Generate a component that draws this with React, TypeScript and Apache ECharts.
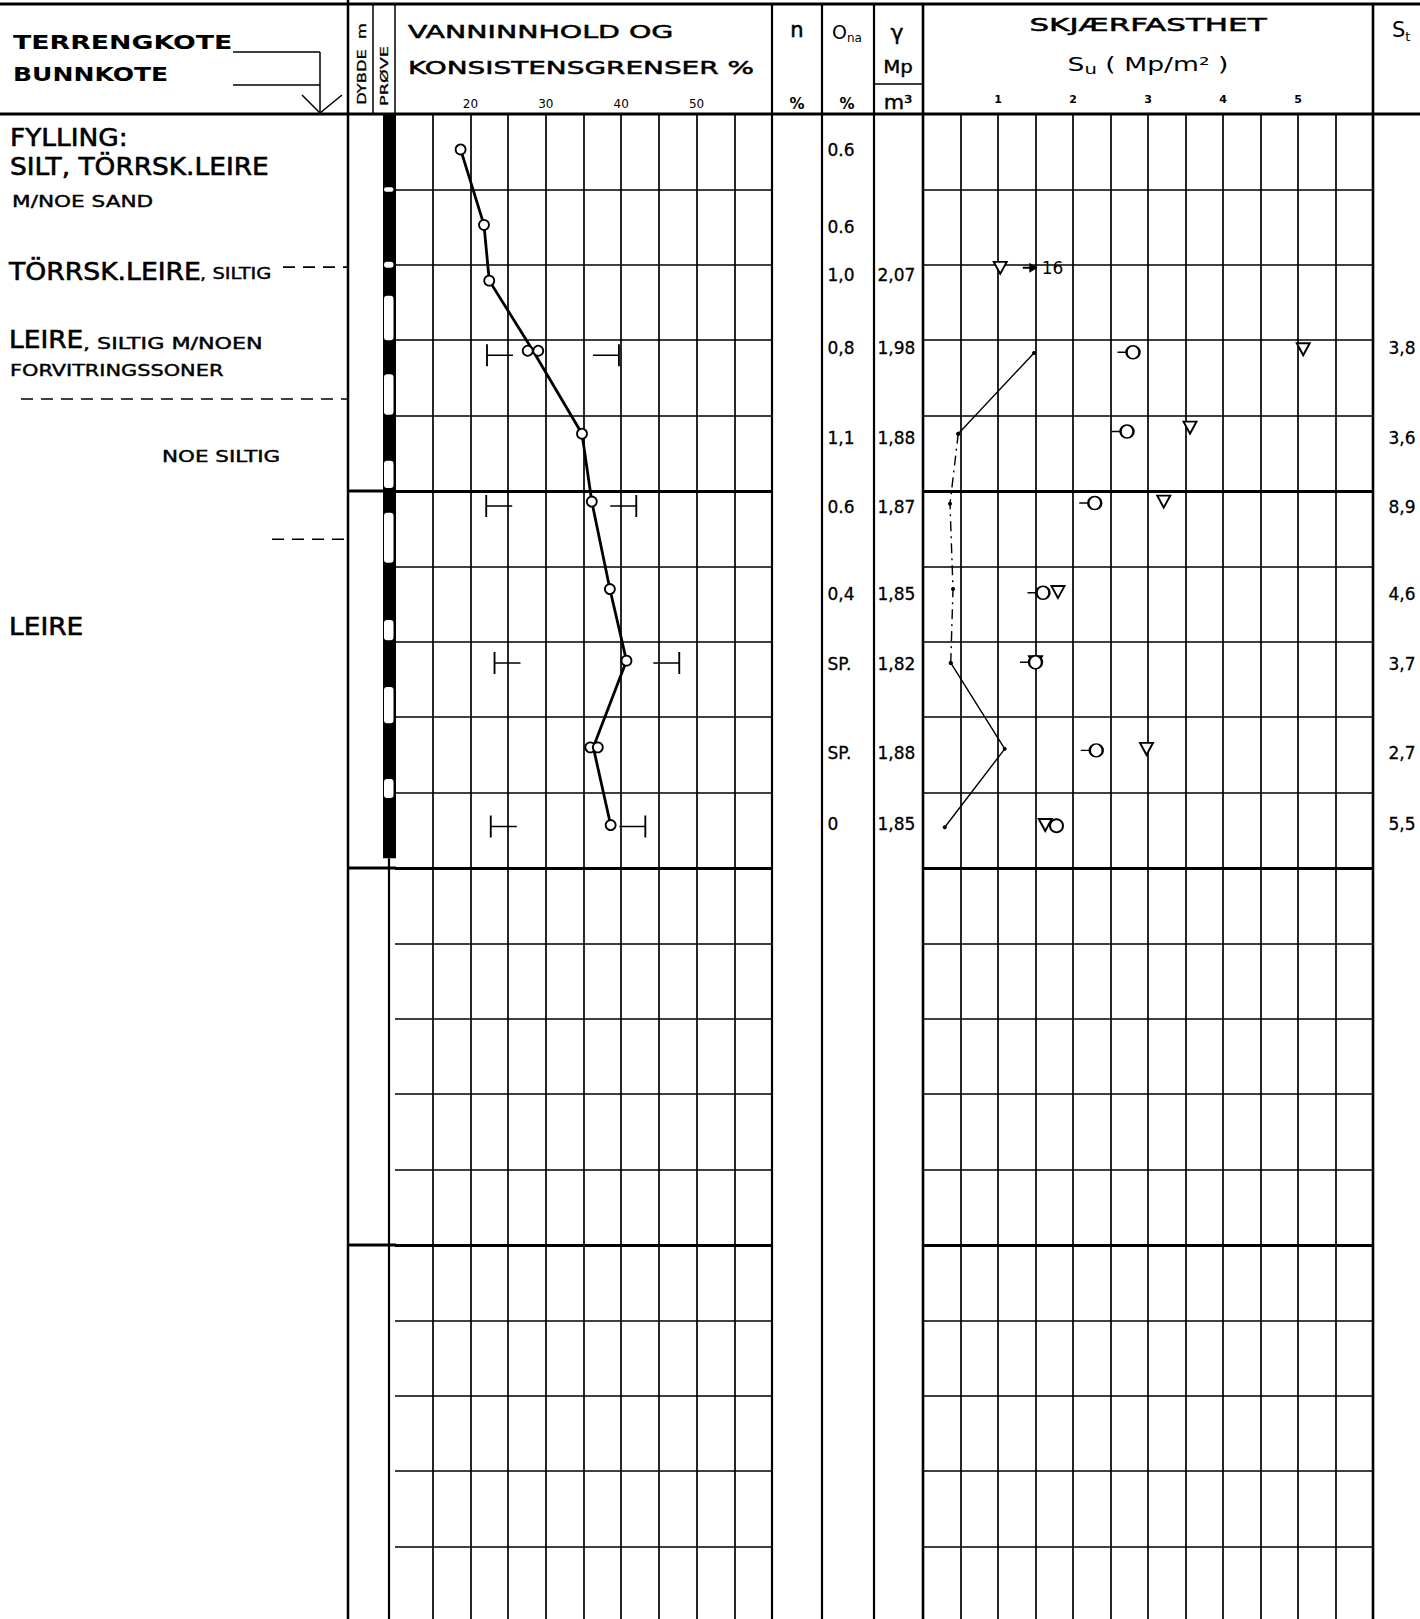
import React, { useEffect, useRef } from "react";
import * as echarts from "echarts";

const FONT = "'DejaVu Sans', 'Liberation Sans', sans-serif";

// ---- Data (depth in m, water content in %, shear strength in Mp/m2) ----
const wcSampleDepth = [0.47, 1.47, 2.21, 3.14, 3.14, 4.24, 5.14, 6.3, 7.25, 8.4, 8.4, 9.43];
const wcSampleValue = [18.7, 21.8, 22.5, 27.6, 29.0, 34.8, 36.1, 38.5, 40.7, 35.9, 36.9, 38.6];
const wcProfileDepth = [0.47, 1.47, 2.21, 3.14, 4.24, 5.14, 6.3, 7.25, 8.4, 9.43];
const wcProfileValue = [18.7, 21.8, 22.5, 28.3, 34.8, 36.1, 38.5, 40.7, 36.3, 38.6];
const limitDepth = [3.2, 5.2, 7.28, 9.45];
const plasticLimit = [22.2, 22.1, 23.2, 22.7];
const liquidLimit = [39.7, 42.0, 47.7, 43.2];
const wcTickLabels = [20, 30, 40, 50];

const onaDepth = [0.48, 1.5, 2.13, 3.1, 4.3, 5.21, 6.37, 7.29, 8.47, 9.42];
const onaText = ["0.6", "0.6", "1,0", "0,8", "1,1", "0.6", "0,4", "SP.", "SP.", "0"];
const gammaDepth = [2.13, 3.1, 4.3, 5.21, 6.37, 7.29, 8.47, 9.42];
const gammaText = ["2,07", "1,98", "1,88", "1,87", "1,85", "1,82", "1,88", "1,85"];
const stDepth = [3.1, 4.3, 5.21, 6.37, 7.29, 8.47, 9.42];
const stText = ["3,8", "3,6", "8,9", "4,6", "3,7", "2,7", "5,5"];

const coneDepth = [2.04, 3.12, 4.16, 5.14, 6.34, 7.27, 8.42, 9.43];
const coneSu = [1.03, 5.07, 3.56, 3.21, 1.8, 1.5, 2.98, 1.63];
const ucDepth = [3.16, 4.21, 5.16, 6.35, 7.27, 8.44, 9.44];
const ucSu = [2.8, 2.72, 2.29, 1.6, 1.5, 2.31, 1.78];
const ucTail = [true, true, true, true, true, true, false];
const remDepth = [3.17, 4.24, 5.17, 6.3, 7.28, 8.42, 9.46];
const remSu = [1.48, 0.47, 0.36, 0.4, 0.37, 1.09, 0.29];
const offScaleDepth = [2.04];
const offScaleSu = [1.43];
const offScaleText = ["16"];
const suTickLabels = [1, 2, 3, 4, 5];

const majorDepths = [5, 10, 15];
const layerBoundaries = [2.03, 3.78, 5.64];
const sampleGaps = [
  [0.97, 1.03], [1.96, 2.04], [2.41, 3.0], [3.45, 3.99], [4.6, 4.96],
  [5.29, 5.95], [6.71, 6.98], [7.6, 8.08], [8.82, 9.07],
];
const sampleEnd = 9.87;

// ---- Layout ----
const W = 1420;
const H = 1619;
const TOP = 114;
const ROW = 75.4;
const HEIGHT = 20 * ROW;
const yOf = (d: number) => TOP + d * ROW;

const TAIL_CIRCLE = "path://M0,7L9,7M9,7A6.5,6.5,0,1,1,22,7A6.5,6.5,0,1,1,9,7Z";
const PL_SYM = "path://M0,0L0,22M0,11L26,11";
const LL_SYM = "path://M0,11L26,11M26,0L26,22";
const ARROW_SYM = "path://M0,4L7,4L7,0L16,5L7,10L7,6L0,6Z";

function T(x: number, y: number, text: string, size: number, opt: any = {}) {
  const style: any = {
    text,
    fontSize: size,
    fontFamily: FONT,
    fontWeight: opt.bold ? "bold" : "normal",
    fill: "#000",
    textAlign: opt.align ?? "left",
    align: opt.align ?? "left",
    textVerticalAlign: "middle",
    verticalAlign: "middle",
  };
  if (opt.rich) style.rich = opt.rich;
  if (opt.heavy) {
    style.stroke = "#000";
    style.lineWidth = opt.heavy;
  }
  return {
    type: "text",
    x,
    y,
    scaleX: opt.sx ?? 1,
    rotation: opt.rot ?? 0,
    z: 100,
    silent: true,
    style,
  };
}

function L(x1: number, y1: number, x2: number, y2: number, w = 2, dash?: number[]) {
  return {
    type: "line",
    z: 60,
    silent: true,
    shape: { x1, y1, x2, y2 },
    style: { stroke: "#000", lineWidth: w, lineDash: dash },
  };
}

function buildGraphic() {
  const el: any[] = [];
  // table frame
  el.push(L(0, 4, W, 4, 3));
  el.push(L(0, TOP, W, TOP, 3));
  el.push(L(348, 0, 348, H, 2.5));
  el.push(L(373, 4, 373, TOP, 1.5));
  el.push(L(395, 4, 395, TOP, 1.5));
  el.push(L(772, 4, 772, H, 2.2));
  el.push(L(822, 4, 822, H, 2.2));
  el.push(L(874, 4, 874, H, 2.2));
  el.push(L(923, 4, 923, H, 2.6));
  el.push(L(1373, 4, 1373, H, 2.6));
  el.push(L(874, 84, 923, 84, 1.5));
  // terrain / bottom level lines
  el.push(L(233, 52, 320, 52, 1.5));
  el.push(L(320, 52, 320, 112, 1.5));
  el.push(L(233, 85, 320, 85, 1.5));
  el.push({
    type: "polyline",
    z: 60,
    silent: true,
    shape: { points: [[302, 95], [320, 113], [342, 95]] },
    style: { stroke: "#000", fill: "none", lineWidth: 1.5 },
  });
  // major depth lines through the depth column
  majorDepths.forEach((d) => el.push(L(348, yOf(d), 396, yOf(d), 3)));
  // layer boundaries (dashed)
  const starts = [283, 21, 272];
  layerBoundaries.forEach((d, i) => el.push(L(starts[i], yOf(d), 348, yOf(d), 1.7, [12, 8])));
  // sample column strip
  el.push({
    type: "rect",
    z: 50,
    silent: true,
    shape: { x: 383, y: TOP, width: 13, height: yOf(sampleEnd) - TOP },
    style: { fill: "#000" },
  });
  sampleGaps.forEach(([a, b]) =>
    el.push({
      type: "rect",
      z: 55,
      silent: true,
      shape: { x: 384, y: yOf(a), width: 9.5, height: yOf(b) - yOf(a), r: 3 },
      style: { fill: "#fff" },
    })
  );
  el.push(L(389, yOf(sampleEnd), 389, H, 2.2));

  // header texts
  el.push(T(13, 42, "TERRENGKOTE", 19, { bold: true, sx: 1.41 }));
  el.push(T(13, 74, "BUNNKOTE", 19, { bold: true, sx: 1.32 }));
  el.push(T(361, 64, "DYBDE  m", 13, { rot: Math.PI / 2, align: "center", sx: 1.25, heavy: 0.3 }));
  el.push(T(384, 76, "PRØVE", 11, { rot: Math.PI / 2, align: "center", sx: 1.6, heavy: 0.3 }));
  el.push(T(408, 32, "VANNINNHOLD OG", 18, { sx: 1.58, heavy: 0.5 }));
  el.push(T(408, 68, "KONSISTENSGRENSER %", 18, { sx: 1.55, heavy: 0.5 }));
  el.push(T(797, 30, "n", 21, { align: "center", heavy: 0.5 }));
  el.push(T(797, 104, "%", 15, { align: "center", bold: true }));
  el.push(
    T(847, 32, "{o|O}{s|na}", 18, {
      align: "center",
      rich: {
        o: { fontSize: 19, fontFamily: FONT, lineHeight: 24, fill: "#000", color: "#000" },
        s: { fontSize: 12, fontFamily: FONT, lineHeight: 10, verticalAlign: "bottom", fill: "#000", color: "#000" },
      },
    })
  );
  el.push(T(847, 104, "%", 15, { align: "center", bold: true }));
  el.push(T(897, 32, "γ", 22, { align: "center", heavy: 0.4 }));
  el.push(T(898, 66, "Mp", 18, { align: "center", sx: 1.1, heavy: 0.4 }));
  el.push(T(898, 102, "m³", 19, { align: "center", sx: 1.1, heavy: 0.4 }));
  el.push(T(1148, 25, "SKJÆRFASTHET", 18, { align: "center", sx: 1.72, heavy: 0.5 }));
  el.push(
    T(1148, 64, "{a|S}{s|u}{a| ( Mp/m² )}", 18, {
      align: "center",
      sx: 1.4,
      rich: {
        a: { fontSize: 19, fontFamily: FONT, lineHeight: 24, fill: "#000", color: "#000" },
        s: { fontSize: 14, fontFamily: FONT, lineHeight: 10, verticalAlign: "bottom", fill: "#000", color: "#000" },
      },
    })
  );
  el.push(
    T(1392, 30, "{a|S}{s|t}", 20, {
      rich: {
        a: { fontSize: 21, fontFamily: FONT, lineHeight: 26, fill: "#000", color: "#000" },
        s: { fontSize: 13, fontFamily: FONT, lineHeight: 10, verticalAlign: "bottom", fill: "#000", color: "#000" },
      },
    })
  );

  // soil description
  el.push(T(10, 138, "FYLLING:", 24, { sx: 1.1, heavy: 0.6 }));
  el.push(T(10, 167, "SILT, TÖRRSK.LEIRE", 24, { sx: 1.1, heavy: 0.6 }));
  el.push(T(12, 201, "M/NOE SAND", 16, { sx: 1.35, heavy: 0.4 }));
  el.push(T(9, 271, "TÖRRSK.LEIRE", 24, { sx: 1.11, heavy: 0.6 }));
  el.push(T(200, 274, ", SILTIG", 15, { sx: 1.3, heavy: 0.4 }));
  el.push(T(9, 340, "LEIRE", 24, { sx: 1.1, heavy: 0.6 }));
  el.push(T(83, 343, ", SILTIG M/NOEN", 15, { sx: 1.48, heavy: 0.4 }));
  el.push(T(10, 371, "FORVITRINGSSONER", 15, { sx: 1.39, heavy: 0.4 }));
  el.push(T(162, 457, "NOE SILTIG", 15, { sx: 1.43, heavy: 0.4 }));
  el.push(T(9, 627, "LEIRE", 24, { sx: 1.1, heavy: 0.6 }));
  return el;
}

const axisLineStyle = { color: "#000", width: 1.7 };
const thick = {
  silent: true,
  symbol: ["none", "none"],
  label: { show: false },
  lineStyle: { color: "#000", width: 3, type: "solid" },
  emphasis: { disabled: true },
  data: majorDepths.map((d) => ({ yAxis: d })),
};

function labelColumn(idx: number, depths: number[], texts: string[], dist: number) {
  return {
    type: "scatter",
    xAxisIndex: idx,
    yAxisIndex: idx,
    symbolSize: 1,
    itemStyle: { color: "rgba(0,0,0,0)", opacity: 1 },
    silent: true,
    label: {
      show: true,
      position: "right",
      distance: dist,
      formatter: (p: any) => texts[p.dataIndex],
      fontSize: 17,
      fontFamily: FONT,
      color: "#000",
      textBorderColor: "#000",
      textBorderWidth: 0.3,
    },
    data: depths.map((d) => [0, d]),
  };
}

function buildOption() {
  const hiddenX = (g: number) => ({ gridIndex: g, type: "value", min: 0, max: 1, show: false });
  const depthY = (g: number, split: boolean) => ({
    gridIndex: g,
    type: "value",
    min: 0,
    max: 20,
    interval: 1,
    inverse: true,
    axisLabel: { show: false },
    axisLine: { show: false },
    axisTick: { show: false },
    splitLine: { show: split, lineStyle: axisLineStyle },
  });
  const grids = [
    { left: 395, top: TOP, width: 377, height: HEIGHT },
    { left: 822, top: TOP, width: 52, height: HEIGHT },
    { left: 874, top: TOP, width: 49, height: HEIGHT },
    { left: 923, top: TOP, width: 450, height: HEIGHT },
    { left: 1373, top: TOP, width: 47, height: HEIGHT },
  ].map((g) => ({ ...g, containLabel: false, outerBoundsMode: "none" }));

  const remSolidA = remDepth.slice(0, 2).map((d, i) => [remSu[i], d]);
  const remDashed = remDepth.slice(1, 5).map((d, i) => [remSu[i + 1], d]);
  const remSolidB = remDepth.slice(4).map((d, i) => [remSu[i + 4], d]);
  const remLine = (data: number[][], dashed: boolean) => ({
    type: "line",
    xAxisIndex: 3,
    yAxisIndex: 3,
    data,
    symbol: "circle",
    symbolSize: 4,
    showSymbol: true,
    itemStyle: { color: "#000" },
    lineStyle: { color: "#000", width: 1.4, type: dashed ? [10, 5, 2, 5] : "solid" },
    silent: true,
    z: 3,
  });

  return {
    animation: false,
    backgroundColor: "#fff",
    grid: grids,
    xAxis: [
      {
        gridIndex: 0,
        type: "value",
        position: "top",
        min: 10,
        max: 60,
        interval: 5,
        axisLine: { show: false },
        axisTick: { show: false },
        axisLabel: {
          show: true,
          margin: 4,
          fontSize: 12,
          fontFamily: FONT,
          color: "#000",
          formatter: (v: number) => (wcTickLabels.includes(v) ? String(v) : ""),
        },
        splitLine: { show: true, showMinLine: false, lineStyle: axisLineStyle },
      },
      hiddenX(1),
      hiddenX(2),
      {
        gridIndex: 3,
        type: "value",
        position: "top",
        min: 0,
        max: 6,
        interval: 0.5,
        axisLine: { show: false },
        axisTick: { show: false },
        axisLabel: {
          show: true,
          margin: 9,
          fontSize: 11,
          fontWeight: "bold",
          fontFamily: FONT,
          color: "#000",
          formatter: (v: number) => (suTickLabels.includes(v) ? String(v) : ""),
        },
        splitLine: { show: true, lineStyle: axisLineStyle },
      },
      hiddenX(4),
    ],
    yAxis: [depthY(0, true), depthY(1, false), depthY(2, false), depthY(3, true), depthY(4, false)],
    graphic: { elements: buildGraphic() },
    series: [
      {
        type: "line",
        xAxisIndex: 0,
        yAxisIndex: 0,
        data: wcProfileDepth.map((d, i) => [wcProfileValue[i], d]),
        symbol: "none",
        lineStyle: { color: "#000", width: 2.8 },
        silent: true,
        z: 3,
        markLine: thick,
      },
      {
        type: "scatter",
        xAxisIndex: 0,
        yAxisIndex: 0,
        data: wcSampleDepth.map((d, i) => [wcSampleValue[i], d]),
        symbol: "circle",
        symbolSize: 10,
        itemStyle: { color: "#fff", borderColor: "#000", borderWidth: 1.8, opacity: 1 },
        silent: true,
        z: 4,
      },
      {
        type: "scatter",
        xAxisIndex: 0,
        yAxisIndex: 0,
        data: limitDepth.map((d, i) => [plasticLimit[i], d]),
        symbol: PL_SYM,
        symbolSize: [26, 22],
        symbolOffset: [13, 0],
        itemStyle: { color: "#000", borderColor: "#000", borderWidth: 1.7, opacity: 1 },
        silent: true,
        z: 4,
      },
      {
        type: "scatter",
        xAxisIndex: 0,
        yAxisIndex: 0,
        data: limitDepth.map((d, i) => [liquidLimit[i], d]),
        symbol: LL_SYM,
        symbolSize: [26, 22],
        symbolOffset: [-13, 0],
        itemStyle: { color: "#000", borderColor: "#000", borderWidth: 1.7, opacity: 1 },
        silent: true,
        z: 4,
      },
      labelColumn(1, onaDepth, onaText, 5),
      labelColumn(2, gammaDepth, gammaText, 3),
      labelColumn(4, stDepth, stText, 15),
      {
        type: "line",
        xAxisIndex: 3,
        yAxisIndex: 3,
        data: [],
        silent: true,
        markLine: thick,
      },
      remLine(remSolidA, false),
      remLine(remDashed, true),
      remLine(remSolidB, false),
      {
        type: "scatter",
        xAxisIndex: 3,
        yAxisIndex: 3,
        data: coneDepth.map((d, i) => [coneSu[i], d]),
        symbol: "triangle",
        symbolRotate: 180,
        symbolSize: [13, 12],
        itemStyle: { color: "#fff", borderColor: "#000", borderWidth: 1.9, opacity: 1 },
        silent: true,
        z: 5,
      },
      {
        type: "scatter",
        xAxisIndex: 3,
        yAxisIndex: 3,
        data: ucDepth.map((d, i) =>
          ucTail[i]
            ? { value: [ucSu[i], d], symbol: TAIL_CIRCLE, symbolSize: [22, 13], symbolOffset: [-4.5, 0] }
            : { value: [ucSu[i], d], symbol: "circle", symbolSize: 13 }
        ),
        itemStyle: { color: "#fff", borderColor: "#000", borderWidth: 1.9, opacity: 1 },
        silent: true,
        z: 6,
      },
      {
        type: "scatter",
        xAxisIndex: 3,
        yAxisIndex: 3,
        data: offScaleDepth.map((d, i) => [offScaleSu[i], d]),
        symbol: ARROW_SYM,
        symbolSize: [15, 10],
        itemStyle: { color: "#000", opacity: 1 },
        label: {
          show: true,
          position: "right",
          distance: 4,
          formatter: (p: any) => offScaleText[p.dataIndex],
          fontSize: 17,
          fontFamily: FONT,
          color: "#000",
        },
        silent: true,
        z: 5,
      },
    ],
  };
}

export default function App() {
  const ref = useRef<HTMLDivElement>(null);
  useEffect(() => {
    if (!ref.current) return;
    const chart = echarts.init(ref.current, null, { renderer: "svg" });
    chart.setOption(buildOption() as any);
    return () => chart.dispose();
  }, []);
  return (
    <div
      ref={ref}
      style={{ position: "absolute", left: 0, top: 0, width: W, height: H, background: "#fff" }}
    />
  );
}
